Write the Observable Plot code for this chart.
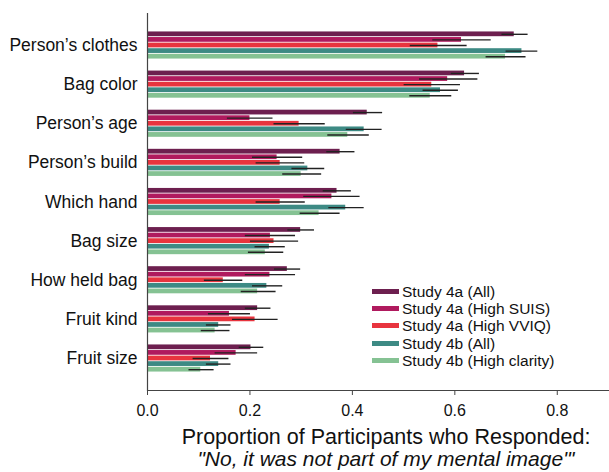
<!DOCTYPE html>
<html>
<head>
<meta charset="utf-8">
<script src="https://cdn.jsdelivr.net/npm/d3@7"></script>
<script src="https://cdn.jsdelivr.net/npm/@observablehq/plot@0.6"></script>
<style>
  html, body { margin: 0; padding: 0; background: #fff; }
  #wrap { position: relative; width: 609px; height: 472px; font-family: "Liberation Sans", Arial, sans-serif; }
  #chart svg { display: block; }
  #legend { position: absolute; left: 372px; top: 282.5px; }
  #legend .lg { margin: 0 !important; min-height: 0 !important; }
  #legend .lg-swatch { padding-bottom: 0 !important; margin: 0 !important; height: 17.4px; line-height: 17.4px; }
  #legend .lg-swatch > svg { margin-right: 3px !important; }
  #xlabel { position: absolute; left: 163px; width: 446px; top: 426px; text-align: center; font-size: 21.5px; line-height: 22px; color: #111; }
  #xlabel .l2 { font-style: italic; font-size: 21px; }
</style>
</head>
<body>
<div id="wrap">
  <div id="chart"></div>
  <div id="legend"></div>
  <div id="xlabel"><div>Proportion of Participants who Responded:</div><div class="l2">"No, it was not part of my mental image"'</div></div>
</div>
<script>
const categories = ["Person’s clothes", "Bag color", "Person’s age", "Person’s build", "Which hand", "Bag size", "How held bag", "Fruit kind", "Fruit size"];
const seriesNames = ["Study 4a (All)", "Study 4a (High SUIS)", "Study 4a (High VVIQ)", "Study 4b (All)", "Study 4b (High clarity)"];
const seriesColors = ["#6d1f4f", "#b01a5e", "#e8343e", "#3d8a84", "#85c293"];
const xTicks = [0, 0.2, 0.4, 0.6, 0.8];

const study4aAll      = [0.716, 0.619, 0.429, 0.376, 0.370, 0.299, 0.273, 0.215, 0.202];
const study4aAllLo    = [0.692, 0.593, 0.402, 0.350, 0.343, 0.274, 0.248, 0.191, 0.179];
const study4aAllHi    = [0.743, 0.648, 0.459, 0.405, 0.398, 0.326, 0.299, 0.241, 0.227];

const study4aSuis     = [0.613, 0.586, 0.200, 0.253, 0.360, 0.240, 0.239, 0.160, 0.173];
const study4aSuisLo   = [0.557, 0.531, 0.156, 0.205, 0.305, 0.191, 0.191, 0.119, 0.132];
const study4aSuisHi   = [0.671, 0.645, 0.245, 0.303, 0.415, 0.289, 0.289, 0.201, 0.215];

const study4aVviq     = [0.567, 0.555, 0.296, 0.259, 0.259, 0.247, 0.148, 0.210, 0.123];
const study4aVviqLo   = [0.513, 0.501, 0.247, 0.212, 0.212, 0.201, 0.111, 0.166, 0.089];
const study4aVviqHi   = [0.624, 0.611, 0.347, 0.307, 0.308, 0.295, 0.186, 0.255, 0.159];

const study4bAll      = [0.731, 0.572, 0.423, 0.313, 0.387, 0.238, 0.233, 0.139, 0.139];
const study4bAllLo    = [0.700, 0.538, 0.388, 0.282, 0.354, 0.210, 0.205, 0.115, 0.115];
const study4bAllHi    = [0.762, 0.607, 0.458, 0.346, 0.423, 0.269, 0.264, 0.163, 0.163];

const study4bClarity   = [0.699, 0.552, 0.391, 0.300, 0.335, 0.230, 0.215, 0.132, 0.104];
const study4bClarityLo = [0.661, 0.512, 0.352, 0.264, 0.298, 0.197, 0.183, 0.105, 0.081];
const study4bClarityHi = [0.739, 0.594, 0.433, 0.340, 0.376, 0.266, 0.251, 0.161, 0.130];

const seriesValues = [study4aAll, study4aSuis, study4aVviq, study4bAll, study4bClarity];
const seriesLo = [study4aAllLo, study4aSuisLo, study4aVviqLo, study4bAllLo, study4bClarityLo];
const seriesHi = [study4aAllHi, study4aSuisHi, study4aVviqHi, study4bAllHi, study4bClarityHi];

// Rows and a grouped band domain (two blank slots separate the category groups)
const rows = [];
const yDomain = [];
categories.forEach((c, i) => {
  if (i > 0) yDomain.push(`gap${i}a`, `gap${i}b`);
  seriesNames.forEach((s, j) => {
    const key = c + "|" + s;
    yDomain.push(key);
    rows.push({key, category: c, series: s, value: seriesValues[j][i], lo: seriesLo[j][i], hi: seriesHi[j][i]});
  });
});
const labelKeys = categories.map(c => c + "|" + seriesNames[2]);

const font = "'Liberation Sans', Arial, sans-serif";

const chart = Plot.plot({
  width: 609,
  height: 420,
  marginLeft: 147,
  marginRight: 1,
  marginTop: 13,
  marginBottom: 30,
  style: {fontFamily: font, background: "white", color: "#111"},
  x: {domain: [0, 0.9]},
  y: {domain: yDomain, paddingInner: 0.15, paddingOuter: 3.3},
  color: {domain: seriesNames, range: seriesColors},
  marks: [
    Plot.barX(rows, {y: "key", x: "value", fill: "series"}),
    Plot.ruleY(rows, {y: "key", x1: "lo", x2: "hi", stroke: "#222", strokeWidth: 1.4}),
    Plot.axisY({ticks: labelKeys, tickFormat: k => k.split("|")[0], tickSize: 0, tickPadding: 10, fontSize: 17.5, label: null}),
    Plot.axisX({ticks: xTicks, tickFormat: d3.format(".1f"), tickSize: 5, tickPadding: 9, fontSize: 16, label: null, stroke: "#444"}),
    Plot.ruleX([0], {stroke: "#444", strokeWidth: 1.2}),
    Plot.frame({anchor: "bottom", stroke: "#444", strokeWidth: 1.2})
  ]
});
document.getElementById("chart").appendChild(chart);

const legend = Plot.legend({
  color: {domain: seriesNames, range: seriesColors},
  legend: "swatches",
  columns: 1,
  swatchWidth: 27,
  swatchHeight: 5,
  className: "lg",
  style: {fontFamily: font, fontSize: "15.5px", color: "#111"}
});
document.getElementById("legend").appendChild(legend);
</script>
</body>
</html>
